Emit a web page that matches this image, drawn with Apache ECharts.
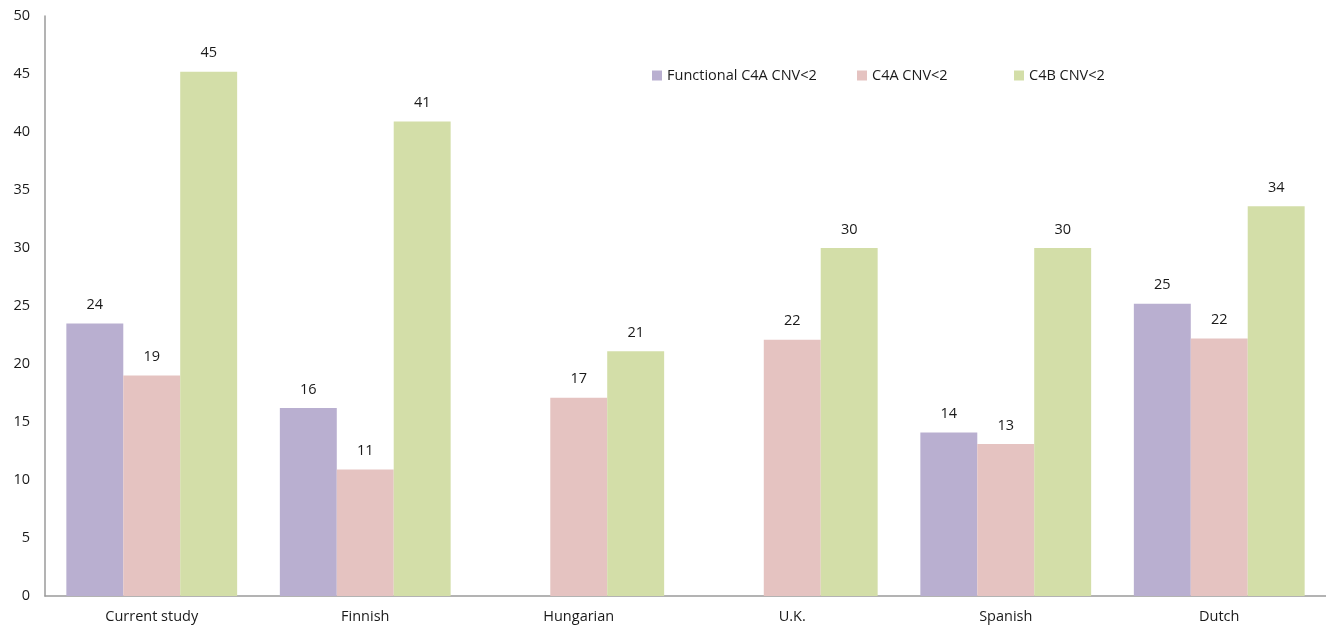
<!DOCTYPE html>
<html>
<head>
<meta charset="utf-8">
<script src="https://cdn.jsdelivr.net/npm/echarts@6/dist/echarts.min.js"></script>
<style>html,body{margin:0;padding:0;background:#fff}#c{width:1326px;height:625px}</style>
</head>
<body>
<div id="c"></div>
<script>
const categories = ['Current study', 'Finnish', 'Hungarian', 'U.K.', 'Spanish', 'Dutch'];
const seriesNames = ['Functional C4A CNV<2', 'C4A CNV<2', 'C4B CNV<2'];
const functionalC4A = [23.5, 16.2, null, null, 14.1, 25.2];
const c4a = [19.0, 10.9, 17.1, 22.1, 13.1, 22.2];
const c4b = [45.2, 40.9, 21.1, 30.0, 30.0, 33.6];
const yTicks = [0, 5, 10, 15, 20, 25, 30, 35, 40, 45, 50];

const font = 'Open Sans';
const labelCfg = {
  show: true, position: 'top', distance: 11, color: '#1a1a1a', fontSize: 14.5, fontFamily: font,
  formatter: p => p.value == null ? '' : Math.round(p.value)
};
const legendLefts = [647, 852, 1009];
const chart = echarts.init(document.getElementById('c'));
chart.setOption({
  animation: false,
  grid: { left: 45, top: 16, width: 1281, bottom: 29, containLabel: false },
  legend: seriesNames.map((n, i) => ({
    left: legendLefts[i], top: 63, itemWidth: 10, itemHeight: 10, icon: 'rect',
    textStyle: { fontSize: 14.5, fontFamily: font, color: '#1a1a1a' },
    data: [n]
  })),
  xAxis: {
    type: 'category', data: categories,
    axisLine: { lineStyle: { color: '#9a9a9a', width: 1.5 } },
    axisTick: { show: false },
    axisLabel: { color: '#1a1a1a', fontSize: 14.5, fontFamily: font, margin: 13 }
  },
  yAxis: {
    type: 'value', min: yTicks[0], max: yTicks[yTicks.length - 1], interval: 5,
    axisLine: { show: true, lineStyle: { color: '#9a9a9a', width: 1.5 } },
    axisTick: { show: false },
    splitLine: { show: false },
    axisLabel: { color: '#1a1a1a', fontSize: 14.5, fontFamily: font, margin: 15 }
  },
  series: [
    { name: seriesNames[0], type: 'bar', data: functionalC4A, barGap: '0%', barCategoryGap: '20%',
      itemStyle: { color: '#b9afd0' }, label: labelCfg },
    { name: seriesNames[1], type: 'bar', data: c4a, barGap: '0%', barCategoryGap: '20%',
      itemStyle: { color: '#e5c3c1' }, label: labelCfg },
    { name: seriesNames[2], type: 'bar', data: c4b, barGap: '0%', barCategoryGap: '20%',
      itemStyle: { color: '#d3dea8' }, label: labelCfg }
  ]
});
</script>
</body>
</html>
